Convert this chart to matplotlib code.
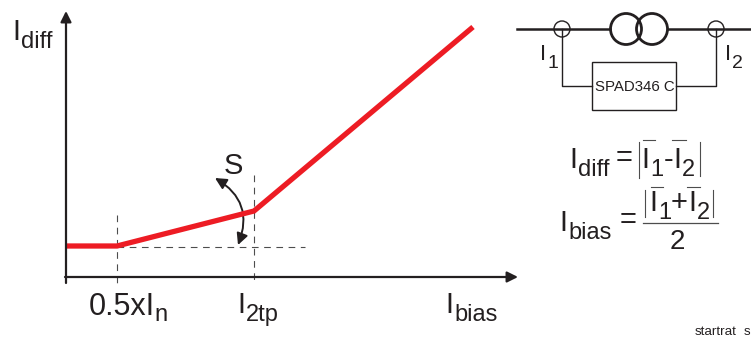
import matplotlib

matplotlib.use("Agg")
import matplotlib.pyplot as plt
from matplotlib.patches import Circle, FancyArrowPatch, Rectangle

plt.rcParams["font.family"] = ["Liberation Sans", "DejaVu Sans"]

# characteristic curve (pixel units of the image)
curve_x = [66, 117, 254, 473]
curve_y = [246, 246, 211, 27]
knee_x = [117, 254]
knee_top = [215, 175]
base_y = 247
axis_x0, axis_y0 = 66, 277

RED = "#ed1c24"
INK = "#231f20"
GREY = "#4d4d4d"


def label(ax, x, y, main, sub=None, size=21, sub_size=17, sub_dx=0, sub_dy=8):
    # main text plus a hand placed subscript, baseline at y
    t = ax.text(x, y, main, fontsize=size, color=INK, va="baseline", ha="left")
    if sub:
        bb = t.get_window_extent(ax.figure.canvas.get_renderer())
        ax.text(x + bb.width + sub_dx, y + sub_dy, sub, fontsize=sub_size, color=INK, va="baseline", ha="left")


def draw_chart(ax):
    ax.plot(curve_x, curve_y, color=RED, lw=3.8, solid_joinstyle="miter", solid_capstyle="butt", zorder=3)
    for x, top in zip(knee_x, knee_top):
        ax.plot([x, x], [top, 285], color=GREY, lw=0.8, dashes=(6, 5))
    ax.plot([117, 305], [base_y, base_y], color=GREY, lw=0.8, dashes=(6, 5))
    ax.annotate("", xy=(66, 11), xytext=(66, 283), arrowprops=dict(arrowstyle="-|>", color=INK, lw=1.6, mutation_scale=16, shrinkA=0, shrinkB=0))
    ax.annotate("", xy=(518, axis_y0), xytext=(axis_x0 - 1, axis_y0), arrowprops=dict(arrowstyle="-|>", color=INK, lw=1.6, mutation_scale=16, shrinkA=0, shrinkB=0))
    ax.add_patch(FancyArrowPatch((215, 178), (238, 245), connectionstyle="arc3,rad=-0.42", arrowstyle="<|-|>", mutation_scale=17, color=INK, lw=1.4, shrinkA=0, shrinkB=0))

    label(ax, 12, 40, "I", "diff", sub_dx=1)
    label(ax, 224, 174, "S")
    label(ax, 89, 315, "0.5xI", "n", size=22, sub_dx=-1, sub_dy=6)
    label(ax, 237, 313, "I", "2tp", sub_dx=1)
    label(ax, 445, 313, "I", "bias", sub_dx=1)


def draw_circuit(ax):
    ax.plot([517, 610], [29, 29], color=INK, lw=1.8)
    ax.plot([668, 751], [29, 29], color=INK, lw=1.8)
    for x in (626, 652):
        ax.add_patch(Circle((x, 29), 15.5, fill=False, ec=INK, lw=2))
    for x in (562, 716):
        ax.add_patch(Circle((x, 29), 8, fill=False, ec=INK, lw=1))
    ax.plot([562, 562, 592], [29, 86, 86], color=INK, lw=1)
    ax.plot([676, 716, 716], [86, 86, 29], color=INK, lw=1)
    ax.add_patch(Rectangle((592, 62), 84, 48, fill=False, ec=INK, lw=1))
    ax.text(595, 91, "SPAD346 C", fontsize=10.8, color=INK, va="baseline")
    label(ax, 540, 60, "I", "1", size=16, sub_size=14, sub_dx=1, sub_dy=8)
    label(ax, 725, 60, "I", "2", size=16, sub_size=14, sub_dx=1, sub_dy=8)


def draw_formulas(ax):
    label(ax, 569, 168, "I", "diff", sub_dx=1)
    ax.text(616, 166, "=", fontsize=21, color=INK, va="baseline")
    ax.plot([638.5, 638.5], [142, 178], color=GREY, lw=0.8)
    label(ax, 641, 168, "I", "1", sub_dx=1)
    ax.text(664, 168, "-", fontsize=21, color=INK, va="baseline")
    label(ax, 673, 168, "I", "2", sub_dx=1)
    ax.plot([700, 700], [142, 176], color=GREY, lw=0.8)
    ax.plot([643, 655], [140, 140], color=GREY, lw=0.8)
    ax.plot([672, 686], [140, 140], color=GREY, lw=0.8)

    label(ax, 559, 231, "I", "bias", sub_dx=1)
    ax.text(620, 228, "=", fontsize=21, color=INK, va="baseline")
    ax.plot([643, 718], [222.5, 222.5], color=GREY, lw=0.9)
    ax.plot([645, 645], [190, 217], color=GREY, lw=0.8)
    label(ax, 649, 211, "I", "1", sub_dx=1)
    ax.text(671, 211, "+", fontsize=21, color=INK, va="baseline")
    label(ax, 688, 211, "I", "2", sub_dx=1)
    ax.plot([713, 713], [190, 217], color=GREY, lw=0.8)
    ax.plot([651, 663], [187, 187], color=GREY, lw=0.8)
    ax.plot([687, 700], [187, 187], color=GREY, lw=0.8)
    ax.text(677, 249, "2", fontsize=20, color=INK, va="baseline", ha="center")

    ax.text(695, 335, "startrat", fontsize=9.6, color=INK, va="baseline")
    ax.text(744, 335, "s", fontsize=9.6, color=INK, va="baseline")


def main():
    fig = plt.figure(figsize=(7.51, 3.38), dpi=100)
    ax = fig.add_axes([0, 0, 1, 1])
    ax.set_xlim(0, 751)
    ax.set_ylim(338, 0)
    ax.axis("off")
    fig.canvas.draw()
    draw_chart(ax)
    draw_circuit(ax)
    draw_formulas(ax)
    fig.savefig("out.png", dpi=100)
    plt.close(fig)


if __name__ == "__main__":
    main()
